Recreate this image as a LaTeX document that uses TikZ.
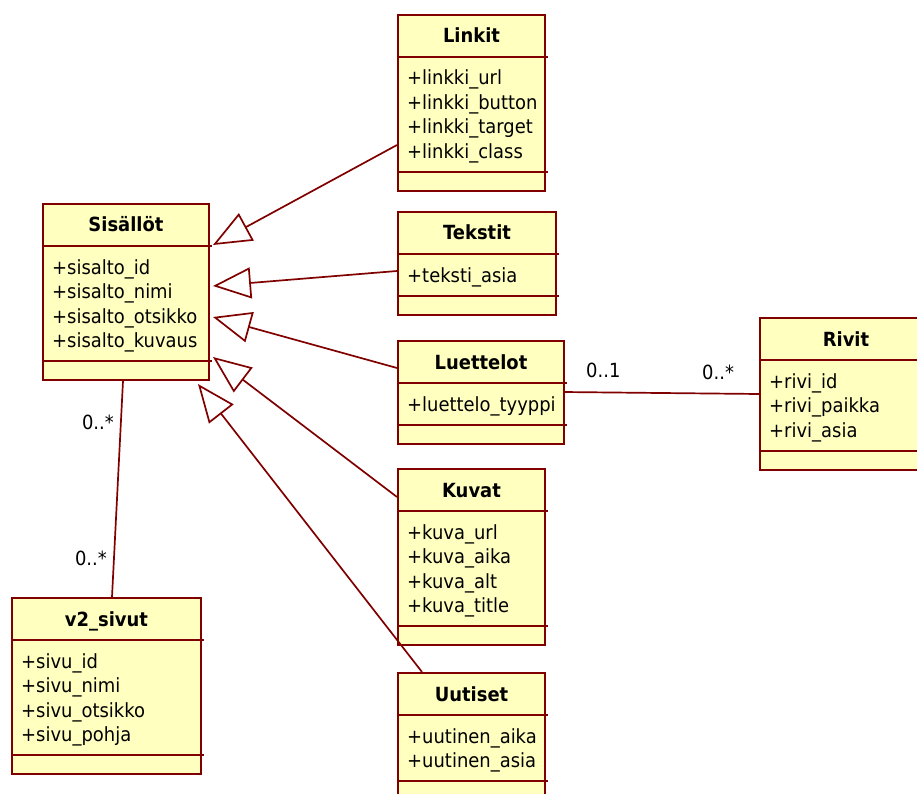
\documentclass[tikz,border=0pt]{standalone}
\usepackage{fontspec}
\setmainfont{DejaVu Sans}[FakeStretch=0.92]
\usetikzlibrary{calc,arrows.meta}

\definecolor{umlborder}{RGB}{128,0,0}
\definecolor{umlfill}{RGB}{255,255,192}

\tikzset{
  classbox/.style={draw=umlborder, fill=umlfill, line width=2pt, inner sep=0pt, anchor=north west},
  classline/.style={draw=umlborder, line width=2pt},
  titletext/.style={inner sep=0pt, anchor=base, font=\fontsize{19.5}{24}\selectfont\bfseries},
  attrtext/.style={inner sep=0pt, anchor=base west, font=\fontsize{19.5}{24}\selectfont},
  multtext/.style={inner sep=0pt, font=\fontsize{19.5}{24}\selectfont},
  inherit/.style={draw=umlborder, line width=1.7pt, -{Triangle[length=38pt,width=31pt,fill=white]}},
  assoc/.style={draw=umlborder, line width=1.7pt},
}

% #1 name, #2 left, #3 top, #4 width, #5 number of attributes, #6 title, #7 attributes
\newcommand\umlclass[7]{%
  \pgfmathsetmacro\clsheight{round(78+24.5*#5)}%
  \pgfmathsetmacro\clsdivider{round(60+24.5*#5)}%
  \node[classbox, minimum width=#4pt, minimum height=\clsheight pt] (#1) at (#2,#3) {};
  \draw[classline] ($(#1.north west)+(0,43)$) -- ($(#1.north east)+(2,43)$);
  \draw[classline] ($(#1.north west)+(0,\clsdivider)$) -- ($(#1.north east)+(2,\clsdivider)$);
  \node[titletext] (#1-title) at ($(#1.north)+(0,29)$) {#6};
  \foreach \attr [count=\k] in {#7} {
    \node[attrtext] (#1-a\k) at ($(#1.north west)+(10,{71+24.5*(\k-1)})$) {\attr};
  }
}

\begin{document}
\begin{tikzpicture}[x=1pt, y=-1pt]
  \clip (0,0) rectangle (917,794);
  \fill[white] (0,0) rectangle (917,794);

  \umlclass{sis}{42}{203}{166}{4}{Sisällöt}{+sisalto\_id, +sisalto\_nimi, +sisalto\_otsikko, +sisalto\_kuvaus}
  \umlclass{link}{397}{14}{147}{4}{Linkit}{+linkki\_url, +linkki\_button, +linkki\_target, +linkki\_class}
  \umlclass{teks}{397}{211}{158}{1}{Tekstit}{+teksti\_asia}
  \umlclass{luet}{397}{340}{166}{1}{Luettelot}{+luettelo\_tyyppi}
  \umlclass{rivit}{759}{317}{172}{3}{Rivit}{+rivi\_id, +rivi\_paikka, +rivi\_asia}
  \umlclass{kuvat}{397}{468}{147}{4}{Kuvat}{+kuva\_url, +kuva\_aika, +kuva\_alt, +kuva\_title}
  \umlclass{uut}{397}{672}{147}{2}{Uutiset}{+uutinen\_aika, +uutinen\_asia}
  \umlclass{sivut}{11}{597}{189}{4}{v2\_sivut}{+sivu\_id, +sivu\_nimi, +sivu\_otsikko, +sivu\_pohja}

  % generalisations towards Sisällöt
  \draw[inherit] ($(link.north west)+(0,131)$) -- ($(sis.north east)+(3,42)$);
  \draw[inherit] ($(teks.north west)+(0,60)$) -- ($(sis.north east)+(3,83)$);
  \draw[inherit] ($(luet.north west)+(0,28)$) -- ($(sis.north east)+(3,114)$);
  \draw[inherit] ($(kuvat.north west)+(0,29)$) -- ($(sis.north east)+(3,154)$);
  \draw[inherit] ($(uut.north west)+(25,0)$) -- ($(sis.south east)+(-12,3)$);

  % associations
  \draw[assoc] ($(sis.south)+(-3,0)$) -- ($(sivut.north)+(5.5,0)$);
  \draw[assoc] ($(luet.north west)+(166,52)$) -- ($(rivit.north west)+(0,77)$);

  % multiplicities
  \node[multtext, anchor=base east] (m1) at (114,429) {0..*};
  \node[multtext, anchor=base east] (m2) at (107,565) {0..*};
  \node[multtext, anchor=base west] (m3) at (586,377) {0..1};
  \node[multtext, anchor=base west] (m4) at (702,379) {0..*};
\end{tikzpicture}
\end{document}
